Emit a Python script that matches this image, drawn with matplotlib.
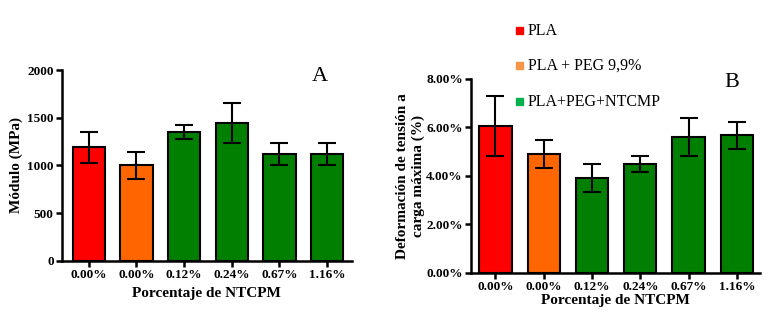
import numpy as np
import matplotlib.pyplot as plt
from matplotlib.patches import Rectangle

plt.rcParams['font.family'] = ['Liberation Serif', 'DejaVu Serif']

categorias = ['0.00%', '0.00%', '0.12%', '0.24%', '0.67%', '1.16%']
modulo = [1190, 1000, 1355, 1450, 1125, 1122]
modulo_err = [165, 145, 75, 210, 115, 115]
deformacion = [6.05, 4.89, 3.89, 4.48, 5.60, 5.67]
deformacion_err = [1.22, 0.58, 0.58, 0.34, 0.78, 0.56]
colores = ['#FF0000', '#FF6600', '#007F00', '#007F00', '#007F00', '#007F00']

leyenda = ['PLA', 'PLA + PEG 9,9%', 'PLA+PEG+NTCMP']
leyenda_col = ['#FF0000', '#F79646', '#00B050']

fig = plt.figure(figsize=(7.79, 3.27), dpi=100)
axA = fig.add_axes([0.0796, 0.2028, 0.3719, 0.5822])
axB = fig.add_axes([0.6046, 0.166, 0.371, 0.5933])

x = np.arange(len(categorias))


def estilo(ax):
    for s in ['top', 'right']:
        ax.spines[s].set_visible(False)
    for s in ['left', 'bottom']:
        ax.spines[s].set_linewidth(1.8)
    ax.tick_params(width=1.8, length=4, direction='out', pad=2)
    ax.set_xticks(x)
    ax.set_xticklabels(categorias, fontsize=9.5, fontweight='bold')
    for t in ax.get_yticklabels():
        t.set_fontweight('bold')
        t.set_fontsize(9.5)


axA.bar(x, modulo, width=0.68, color=colores, edgecolor='black', linewidth=1.5,
        yerr=modulo_err, error_kw=dict(ecolor='black', elinewidth=1.5, capsize=6.5, capthick=1.5))
axA.set_xlim(-0.563, 5.52)
axA.set_ylim(0, 2000)
axA.set_yticks([0, 500, 1000, 1500, 2000])
estilo(axA)
axA.set_xlabel('Porcentaje de NTCPM', fontsize=11, fontweight='bold', labelpad=4)
axA.set_ylabel('Módulo (MPa)', fontsize=11, fontweight='bold', labelpad=3)
axA.text(0.89, 0.97, 'A', transform=axA.transAxes, fontsize=16, va='center', ha='center')

axB.bar(x, deformacion, width=0.67, color=colores, edgecolor='black', linewidth=1.5,
        yerr=deformacion_err, error_kw=dict(ecolor='black', elinewidth=1.5, capsize=6.5, capthick=1.5))
axB.set_xlim(-0.507, 5.48)
axB.set_ylim(0, 8)
axB.set_yticks([0, 2, 4, 6, 8])
axB.set_yticklabels(['%.2f%%' % v for v in [0, 2, 4, 6, 8]])
estilo(axB)
axB.set_xlabel('Porcentaje de NTCPM', fontsize=11, fontweight='bold', labelpad=1)
axB.set_ylabel('Deformación de tensión a\ncarga máxima (%)', fontsize=11, fontweight='bold', labelpad=1)
axB.text(0.902, 0.98, 'B', transform=axB.transAxes, fontsize=16, va='center', ha='center')

# leyenda
ys = [30.7, 65.7, 101.7]
for nombre, col, yp in zip(leyenda, leyenda_col, ys):
    yf = 1 - yp / 327
    fig.patches.append(Rectangle((516 / 779, yf - 3.5 / 327), 7 / 779, 7 / 327,
                                 transform=fig.transFigure, color=col))
    fig.text(528 / 779, yf, nombre, fontsize=11.5, va='center', ha='left')

fig.savefig('out.png', dpi=100)
